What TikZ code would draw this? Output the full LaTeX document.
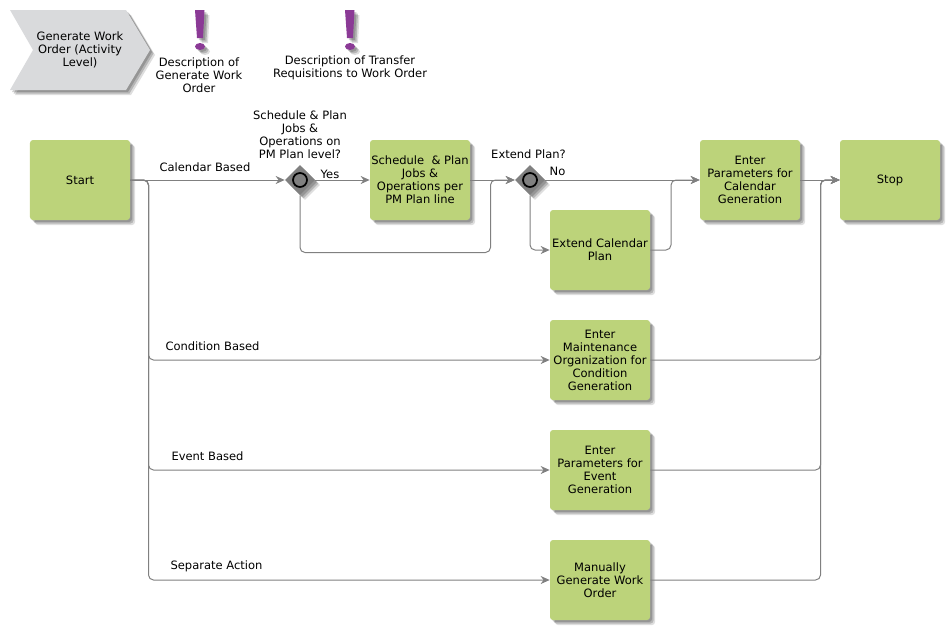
\documentclass[tikz,border=0pt]{standalone}
\usepackage{fontspec}
\setmainfont{DejaVu Sans}
\usetikzlibrary{arrows.meta,shapes.geometric,positioning,shadows}
\definecolor{wfgreen}{RGB}{188,211,122}
\definecolor{wfgrey}{RGB}{217,218,220}
\definecolor{wfline}{RGB}{128,128,128}
\definecolor{wfpurple}{RGB}{139,58,150}
\tikzstyle{softshadow} = [drop shadow={shadow xshift=1mm, shadow yshift=-1mm, fill=black, opacity=0.13},
  drop shadow={shadow xshift=0.7mm, shadow yshift=-0.7mm, fill=black, opacity=0.18},
  drop shadow={shadow xshift=0.4mm, shadow yshift=-0.4mm, fill=black, opacity=0.18}]
\tikzstyle{task} = [rectangle, rounded corners=0.6mm, minimum width=20mm, minimum height=16mm, inner sep=0pt, text centered, fill=wfgreen, softshadow]
\tikzstyle{gate} = [diamond, minimum size=6mm, inner sep=0pt, fill=wfline, softshadow]
\tikzstyle{ring} = [circle, minimum size=2.8mm, inner sep=0pt, draw=black, line width=0.35mm, fill=wfline]
\tikzstyle{arrow} = [line width=0.2mm, color=wfline, rounded corners=1mm, -{Stealth[length=1.8mm,width=1.6mm]}]
\tikzstyle{note} = [inner sep=0pt, text centered]
\tikzstyle{alert} = [fill=wfpurple, softshadow]
\begin{document}
\begin{tikzpicture}[x=0.2mm, y=-0.2mm, every node/.style={font=\fontsize{6.55}{7.4}\selectfont, align=center}]
\useasboundingbox (0,0) rectangle (950,630);

% Header
\fill[wfgrey, softshadow] (10,10) -- (126,10) -- (150,50) -- (126,90) -- (10,90) -- (33,50) -- cycle;
\node[note] (hdr) at (80,50) {Generate Work\\Order (Activity\\Level)};

\fill[alert] (195,10) -- (204.5,10) -- (203,38) -- (197,38) -- cycle;
\fill[alert] (200,46.5) ellipse (5 and 3.5);
\node[note] (desc1) at (199,75) {Description of\\Generate Work\\Order};

\fill[alert] (345,10) -- (354.5,10) -- (353,38) -- (347,38) -- cycle;
\fill[alert] (350,46.5) ellipse (5 and 3.5);
\node[note] (desc2) at (350,68) {Description of Transfer\\Requisitions to Work Order};

% Tasks
\node[task] (start) at (80,180) {Start};
\node[task] (sched) at (420,180) {Schedule\ \ \& Plan\\Jobs \&\\Operations per\\PM Plan line};
\node[task] (extend) at (600,250) {Extend Calendar\\Plan};
\node[task] (params) at (750,180) {Enter\\Parameters for\\Calendar\\Generation};
\node[task] (stop) at (890,180) {Stop};
\node[task] (maint) at (600,360) {Enter\\Maintenance\\Organization for\\Condition\\Generation};
\node[task] (event) at (600,470) {Enter\\Parameters for\\Event\\Generation};
\node[task] (manual) at (600,580) {Manually\\Generate Work\\Order};

% Gates
\node[gate] (plan) at (300,180) {};
\node[ring] (planring) at (plan) {};
\node[gate] (ext) at (530,180) {};
\node[ring] (extring) at (ext) {};

% Bends
\coordinate (split) at (148.5,180);
\coordinate (back) at (490.5,252.5);
\coordinate (rejoin) at (671,250);
\coordinate (mergeA) at (820.5,360);
\coordinate (mergeB) at (820.5,470);
\coordinate (mergeC) at (820.5,580);

% Connections
\draw[arrow] (start.east) -- (plan.west);
\draw[arrow] (plan.east) -- (sched.west);
\draw[arrow] (sched.east) -- (ext.west);
\draw[arrow] (plan.south) |- (back) |- (ext.west);
\draw[arrow] (ext.east) -- (params.west);
\draw[arrow] (ext.south) |- (extend.west);
\draw[arrow] (extend.east) -- (rejoin) |- (params.west);
\draw[arrow] (params.east) -- (stop.west);
\draw[arrow] (start.east) -- (split) |- (maint.west);
\draw[arrow] (start.east) -- (split) |- (event.west);
\draw[arrow] (start.east) -- (split) |- (manual.west);
\draw[arrow] (maint.east) -- (mergeA) |- (stop.west);
\draw[arrow] (event.east) -- (mergeB) |- (stop.west);
\draw[arrow] (manual.east) -- (mergeC) |- (stop.west);

% Labels
\node[note] (lcal) at (205,167) {Calendar Based};
\node[note] (lques) at (300,135) {Schedule \& Plan\\Jobs \&\\Operations on\\PM Plan level?};
\node[note] (lyes) at (330,174) {Yes};
\node[note] (lext) at (528.5,154) {Extend Plan?};
\node[note] (lno) at (557.5,171) {No};
\node[note] (lcond) at (212.5,346) {Condition Based};
\node[note] (levent) at (207.5,456) {Event Based};
\node[note] (lsep) at (216.5,566) {Separate Action};
\end{tikzpicture}
\end{document}
